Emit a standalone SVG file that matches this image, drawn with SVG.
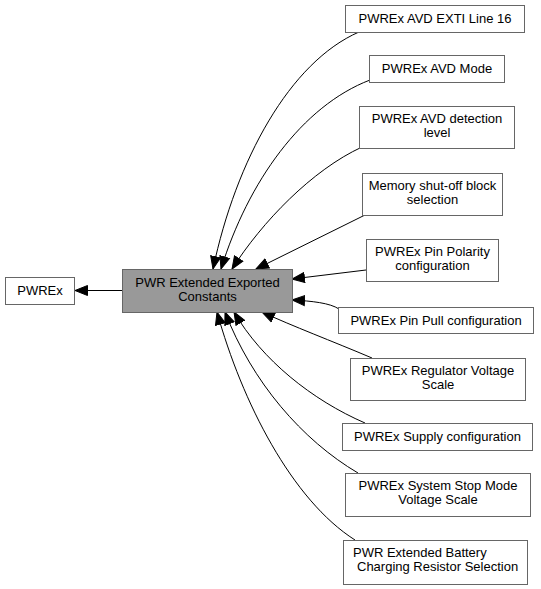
<svg xmlns="http://www.w3.org/2000/svg" width="541" height="589" viewBox="0 0 541 589">
<style>
.box{fill:#ffffff;stroke:#666666;stroke-width:1}
.main{fill:#999999;stroke:#666666;stroke-width:1}
text{font-family:"Liberation Sans",Arial,sans-serif;font-size:13px;fill:#000000}
.c{text-anchor:middle}
.edge{fill:none;stroke:#000000;stroke-width:1;marker-end:url(#ah)}
</style>
<defs>
<marker id="ah" markerUnits="userSpaceOnUse" markerWidth="14" markerHeight="12" refX="13" refY="6" orient="auto">
<path d="M0.5,1 L13,6 L0.5,11 z" fill="#000000" stroke="#000000"/>
</marker>
</defs>
<g id="edges">
<path class="edge" d="M122,290.5 L75,290.5"/>
<path class="edge" d="M359,32 C290,62 236,160 213,269"/>
<path class="edge" d="M370,80 C302,106 248,182 221,269"/>
<path class="edge" d="M362,147 C312,170 262,222 232,269"/>
<path class="edge" d="M365,215 L256,269"/>
<path class="edge" d="M366,270 L292,279"/>
<path class="edge" d="M339,309 C330,303 312,301 292,300"/>
<path class="edge" d="M372,358 C332,341 292,326 262,312"/>
<path class="edge" d="M365,423 C312,400 262,360 234,312"/>
<path class="edge" d="M358,473 C302,440 252,382 225,312"/>
<path class="edge" d="M355,540 C292,500 242,402 217,312"/>
</g>
<g id="node_pwrex">
<rect class="box" x="5.5" y="277.5" width="69" height="27"/>
<text class="c" x="40" y="295">PWREx</text>
</g>
<g id="node_main">
<rect class="main" x="122.5" y="269.5" width="170" height="43"/>
<text class="c" x="207.5" y="287">PWR Extended Exported</text>
<text class="c" x="207.5" y="301">Constants</text>
</g>
<g id="node_avd_exti">
<rect class="box" x="345.5" y="5.5" width="179" height="27"/>
<text class="c" x="435" y="23">PWREx AVD EXTI Line 16</text>
</g>
<g id="node_avd_mode">
<rect class="box" x="369.5" y="55.5" width="135" height="27"/>
<text class="c" x="437" y="73">PWREx AVD Mode</text>
</g>
<g id="node_avd_level">
<rect class="box" x="359.5" y="106.5" width="155" height="42"/>
<text class="c" x="437" y="123">PWREx AVD detection</text>
<text class="c" x="437" y="137">level</text>
</g>
<g id="node_memory">
<rect class="box" x="362.5" y="173.5" width="140" height="42"/>
<text class="c" x="432.5" y="190">Memory shut-off block</text>
<text class="c" x="432.5" y="204">selection</text>
</g>
<g id="node_pin_polarity">
<rect class="box" x="366.5" y="239.5" width="132" height="42"/>
<text class="c" x="432.5" y="256">PWREx Pin Polarity</text>
<text class="c" x="432.5" y="270">configuration</text>
</g>
<g id="node_pin_pull">
<rect class="box" x="338.5" y="307.5" width="195" height="26"/>
<text class="c" x="436" y="325">PWREx Pin Pull configuration</text>
</g>
<g id="node_regulator">
<rect class="box" x="350.5" y="358.5" width="175" height="42"/>
<text class="c" x="438" y="375">PWREx Regulator Voltage</text>
<text class="c" x="438" y="389">Scale</text>
</g>
<g id="node_supply">
<rect class="box" x="342.5" y="423.5" width="190" height="27"/>
<text class="c" x="437.5" y="441">PWREx Supply configuration</text>
</g>
<g id="node_stop_mode">
<rect class="box" x="345.5" y="473.5" width="185" height="43"/>
<text class="c" x="438" y="490">PWREx System Stop Mode</text>
<text class="c" x="438" y="504">Voltage Scale</text>
</g>
<g id="node_battery">
<rect class="box" x="343.5" y="540.5" width="184" height="44"/>
<text x="353" y="557">PWR Extended Battery</text>
<text x="357" y="571">Charging Resistor Selection</text>
</g>
</svg>
